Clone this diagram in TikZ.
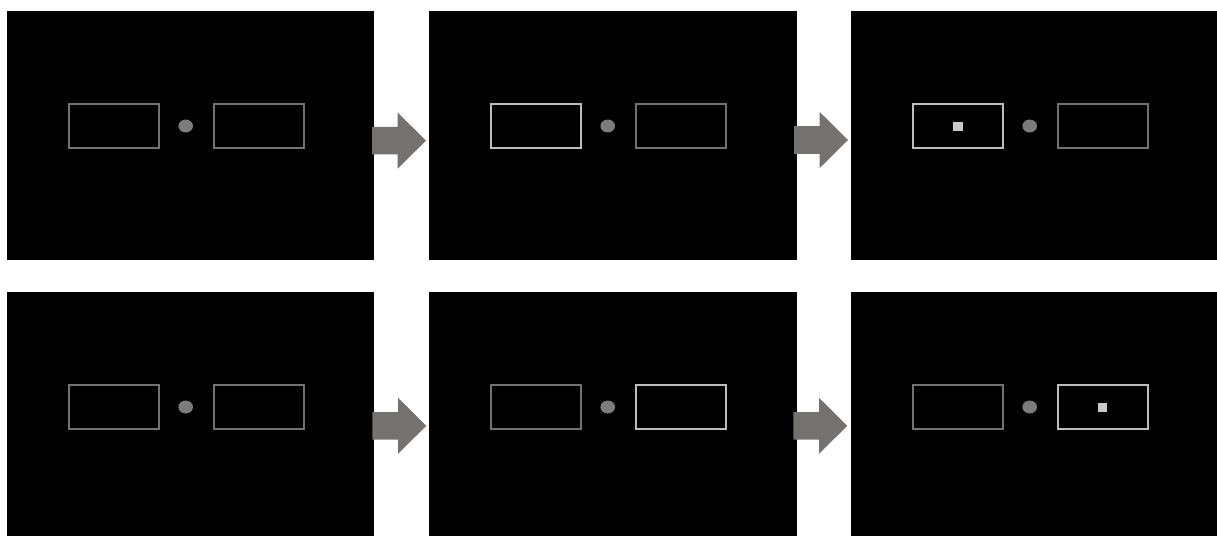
\documentclass[tikz,border=0pt]{standalone}
\begin{document}
\begin{tikzpicture}[x=1pt,y=-1pt,
  panel/.style={fill=black,draw=none},
  dimbox/.style={draw=dimgray,line width=2pt},
  brightbox/.style={draw=brightgray,line width=2pt},
  fixdot/.style={fill=dotgray,draw=none},
  target/.style={fill=targetgray,draw=none},
  bigarrow/.style={fill=arrowgray,draw=none}]
\definecolor{dimgray}{HTML}{727272}
\definecolor{brightgray}{HTML}{BDBDBD}
\definecolor{dotgray}{HTML}{7C7C7C}
\definecolor{targetgray}{HTML}{CACACA}
\definecolor{arrowgray}{HTML}{75716F}
\useasboundingbox (0,0) rectangle (1217,536);
\fill[white] (0,0) rectangle (1217,536);
% panels
\foreach \n/\xa/\xb/\ya/\yb in {a/7/374/11/260, b/429/797/11/260, c/851/1217/11/260,
                                d/7/374/292/536, e/429/797/292/536, f/851/1217/292/536}{
  \fill[panel] (\xa,\ya) rectangle (\xb,\yb);
  \coordinate (\n) at (\xa,\ya);
}
% contents: left box, dot, right box
\newcommand{\screen}[4]{% #1 panel name, #2 left style, #3 right style, #4 y offset
  \draw[#2] ([shift={(62,93.3+#4)}]#1) rectangle ([shift={(152,137+#4)}]#1);
  \fill[fixdot] ([shift={(178.7,115+#4)}]#1) ellipse [x radius=7.3, y radius=6.5];
  \draw[#3] ([shift={(206.5,93.3+#4)}]#1) rectangle ([shift={(296.5,137+#4)}]#1);
}
\screen{a}{dimbox}{dimbox}{0}
\screen{b}{brightbox}{dimbox}{0}
\screen{c}{brightbox}{dimbox}{0}
\screen{d}{dimbox}{dimbox}{0}
\screen{e}{dimbox}{brightbox}{0}
\screen{f}{dimbox}{brightbox}{0}
% targets
\fill[target] ([shift={(102.3,111.3)}]c) rectangle ([shift={(111.7,119.7)}]c);
\fill[target] ([shift={(247.3,111.3)}]f) rectangle ([shift={(256,119.7)}]f);
% arrows
\newcommand{\stepArrow}[2]{% #1 x start, #2 y centre
  \fill[bigarrow] (#1,#2-13.8) -- (#1+25.7,#2-13.8) -- (#1+25.7,#2-28) -- (#1+54,#2)
    -- (#1+25.7,#2+28) -- (#1+25.7,#2+13.8) -- (#1,#2+13.8) -- cycle;
}
\stepArrow{372}{140.6}
\stepArrow{794}{140.0}
\stepArrow{372.3}{425.8}
\stepArrow{793.3}{425.8}
\end{tikzpicture}
\end{document}
